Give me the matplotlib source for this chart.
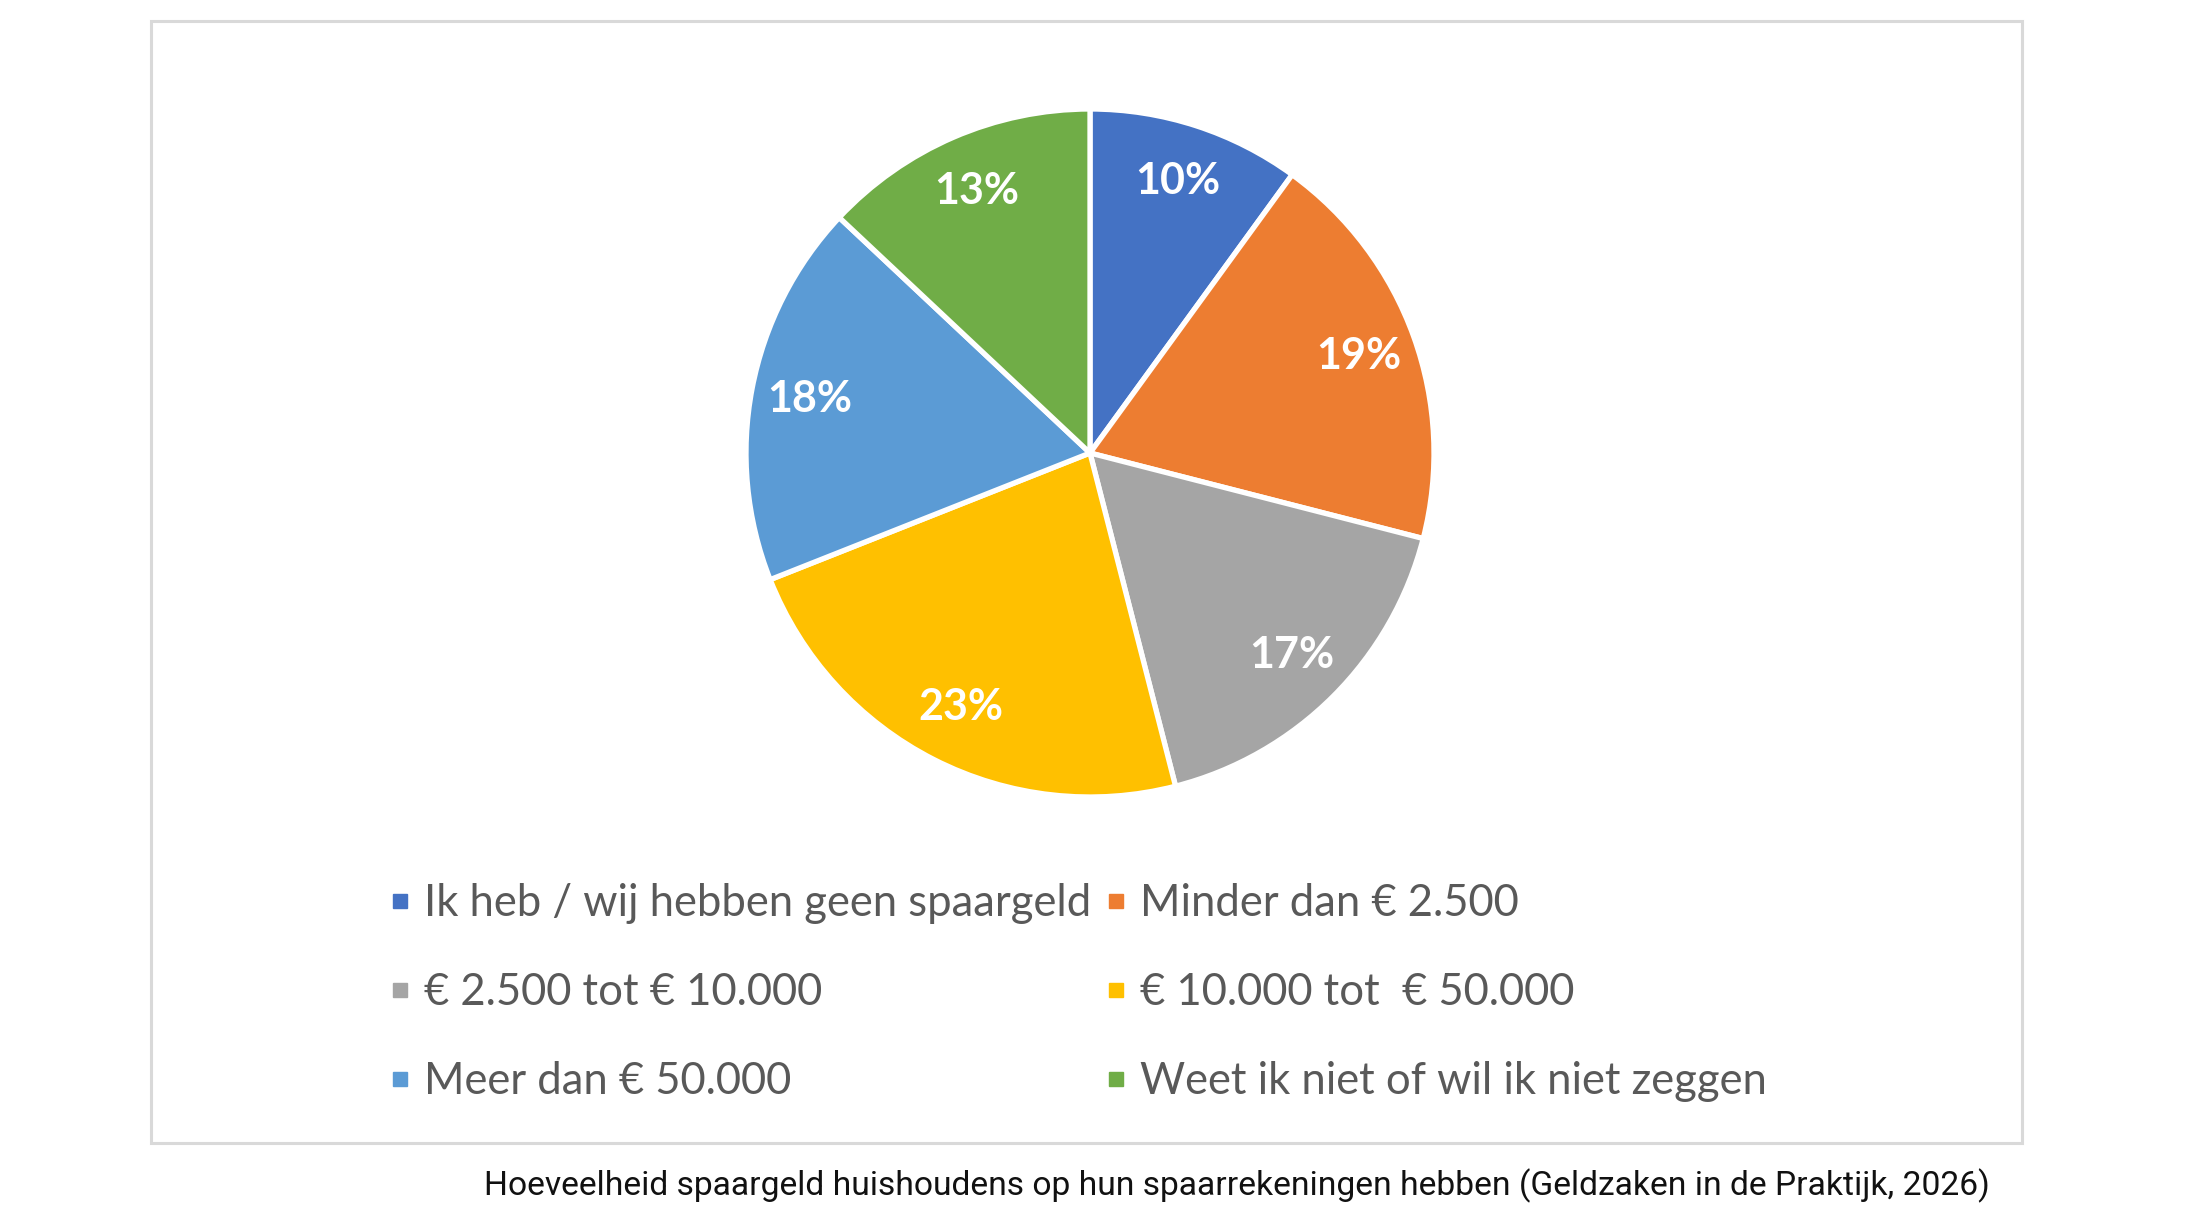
import matplotlib
matplotlib.use("Agg")
import matplotlib.pyplot as plt
from matplotlib.lines import Line2D
from matplotlib.patches import Rectangle

categories = [
    "Ik heb / wij hebben geen spaargeld",
    "Minder dan € 2.500",
    "€ 2.500 tot € 10.000",
    "€ 10.000 tot  € 50.000",
    "Meer dan € 50.000",
    "Weet ik niet of wil ik niet zeggen",
]
values = [10, 19, 17, 23, 18, 13]
colors = ["#4472C4", "#ED7D31", "#A5A5A5", "#FFC000", "#5B9BD5", "#70AD47"]
caption = "Hoeveelheid spaargeld huishoudens op hun spaarrekeningen hebben (Geldzaken in de Praktijk, 2026)"

W, H = 2200, 1218
fig = plt.figure(figsize=(W / 100, H / 100), dpi=100)
fig.patch.set_facecolor("white")

# border box
fig.patches.append(Rectangle((151 / W, 1 - 1143 / H), (2022 - 151) / W, (1143 - 21) / H,
                             transform=fig.transFigure, fill=False,
                             edgecolor="#d9d9d9", linewidth=2.2))

cx, cy, r = 1090, 453, 344
ax = fig.add_axes([(cx - r) / W, 1 - (cy + r) / H, 2 * r / W, 2 * r / H])
wedges, texts, autotexts = ax.pie(
    values, colors=colors, startangle=90, counterclock=False,
    autopct="%1.0f%%", pctdistance=0.83,
    wedgeprops=dict(edgecolor="white", linewidth=3.8),
    textprops=dict(color="white", fontsize=31, fontweight="bold", family="Lato"),
)
for w in wedges:
    w.set_clip_on(False)
ax.set_xlim(-1, 1)
ax.set_ylim(-1, 1)
ax.set_aspect("equal")
ax.axis("off")

handles = [Line2D([], [], marker="s", linestyle="none", markersize=10,
                  markerfacecolor=c, markeredgecolor=c) for c in colors]
order = [0, 2, 4, 1, 3, 5]
leg = fig.legend([handles[i] for i in order], [categories[i] for i in order],
                 ncol=2, loc="upper left", bbox_to_anchor=(390 / W, 1 - 883 / H),
                 frameon=False, borderpad=0, borderaxespad=0,
                 handlelength=0.45, handletextpad=0.33, columnspacing=0.34,
                 labelspacing=1.1,
                 prop=dict(family="Lato", size=31.4))
for t in leg.get_texts():
    t.set_color("#595959")

fig.text(1990 / W, 1 - 1186 / H, caption, ha="right", va="center",
         fontsize=24.25, family="Roboto", color="#111111")

fig.savefig("out.png", dpi=100, facecolor="white")
